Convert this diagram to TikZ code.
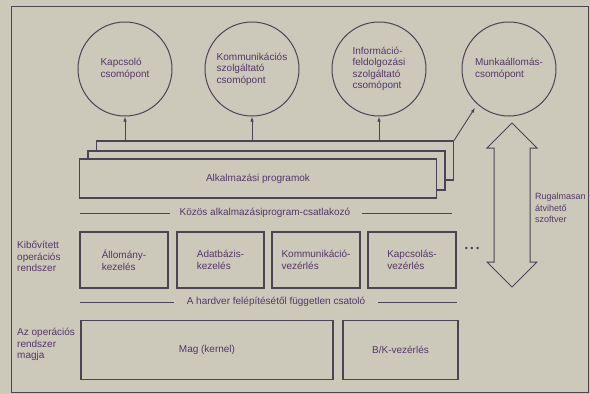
\documentclass[tikz,border=0pt]{standalone}
\usepackage{fontspec}
\setmainfont{Liberation Sans}
\usetikzlibrary{arrows.meta}
\definecolor{bgc}{RGB}{204,200,186}
\definecolor{lnc}{RGB}{75,68,85}
\definecolor{txc}{RGB}{85,55,105}
\begin{document}
\begin{tikzpicture}[x=1pt,y=-1pt,
  every node/.style={text=txc, font=\fontsize{10}{11.5}\selectfont},
  ln/.style={draw=lnc, line width=1pt},
  thinln/.style={draw=lnc, line width=0.8pt},
  nodecirc/.style={circle, draw=lnc, line width=1pt, minimum size=94pt, inner sep=0pt, align=left},
  box/.style={rectangle, draw=lnc, line width=1.1pt, fill=bgc, inner sep=0pt, align=left},
  arr/.style={-{Latex[length=5pt,width=3.5pt]}, draw=lnc, line width=0.9pt},
  lbl/.style={anchor=north west, align=left, inner sep=0pt}]
\fill[bgc] (0,0) rectangle (590,394);
\useasboundingbox (0,0) rectangle (590,394);
\draw[ln] (11,6) rectangle (588,392);

% top circles
\node[nodecirc] (c1) at (125,69) {Kapcsoló\\csomópont};
\node[nodecirc] (c2) at (252,69) {Kommunikációs\\szolgáltató\\csomópont};
\node[nodecirc] (c3) at (379,69) {Információ-\\feldolgozási\\szolgáltató\\csomópont};
\node[nodecirc] (c4) at (509,69) {Munkaállomás-\\csomópont};

% stacked application boxes
\node[box, minimum width=357pt, minimum height=39pt] (back) at (275,160.5) {};
\node[box, minimum width=357pt, minimum height=39pt] (mid) at (266.5,170.5) {};
\node[box, minimum width=357pt, minimum height=39pt] (front) at (258,178.5) {Alkalmazási programok};

\draw[arr] (c1.south |- back.north) -- (c1.south);
\draw[arr] (c2.south |- back.north) -- (c2.south);
\draw[arr] (c3.south |- back.north) -- (c3.south);
\draw[arr, shorten >=4pt] (back.north east) -- (c4.228);

% common interface
\node (kozos) at (265,213) {Közös alkalmazásiprogram-csatlakozó};
\draw[thinln] (80,213) -- (170,213);
\draw[thinln] (362,213) -- (452,213);

% extended OS
\node[lbl] (kib) at (17,241) {Kibővített\\operációs\\rendszer};
\node[box, minimum width=88pt, minimum height=56pt] (b1) at (124,260) {Állomány-\\kezelés};
\node[box, minimum width=87pt, minimum height=56pt] (b2) at (220.5,260) {Adatbázis-\\kezelés};
\node[box, minimum width=88pt, minimum height=56pt] (b3) at (316,260) {Kommunikáció-\\vezérlés};
\node[box, minimum width=88pt, minimum height=56pt] (b4) at (412,260) {Kapcsolás-\\vezérlés};
\node[text=lnc, font=\fontsize{9}{10}\selectfont] (dots) at (472,249) {\textbullet\ \textbullet\ \textbullet};

% hardware independent interface
\node (hw) at (276,302) {A hardver felépítésétől független csatoló};
\draw[thinln] (80,302) -- (174,302);
\draw[thinln] (378,302) -- (457,302);

% kernel
\node[lbl] (azop) at (17,328) {Az operációs\\rendszer\\magja};
\node[box, minimum width=252pt, minimum height=59pt] (mag) at (207,350) {Mag (kernel)};
\node[box, minimum width=115pt, minimum height=59pt] (bk) at (400.5,350) {B/K-vezérlés};

% double arrow
\draw[ln, fill=bgc] (512,123) -- (537,148) -- (530,148) -- (530,262) -- (537,262)
  -- (512,287) -- (487,262) -- (494,262) -- (494,148) -- (487,148) -- cycle;
\node[lbl, font=\fontsize{9}{11.5}\selectfont] (rug) at (535,193) {Rugalmasan\\átvihető\\szoftver};
\end{tikzpicture}
\end{document}
